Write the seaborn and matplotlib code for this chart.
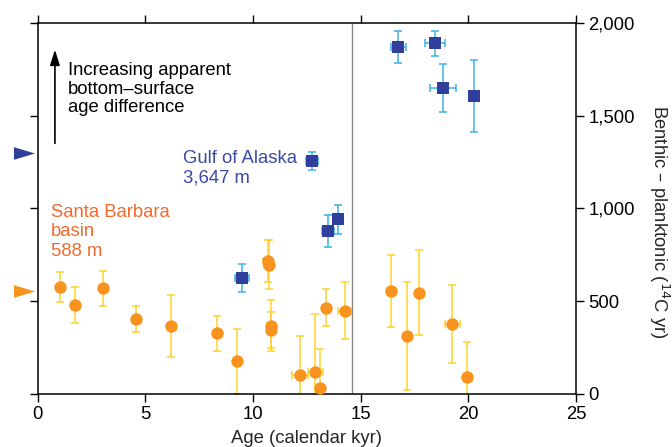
import matplotlib
matplotlib.use("Agg")
import matplotlib.pyplot as plt
import seaborn as sns
import pandas as pd
from matplotlib.path import Path

# ---- data ----
sb_age = [1.04, 1.73, 3.01, 4.56, 6.19, 8.31, 9.25, 10.68, 10.72, 10.82, 10.84,
          12.18, 12.90, 13.10, 13.37, 14.27, 16.43, 17.16, 17.72, 19.25, 19.93]
sb_val = [578, 479, 569, 404, 366, 327, 176, 717, 697, 368, 346,
          102, 117, 34, 465, 449, 555, 312, 546, 375, 93]
sb_yerr = [80, 95, 95, 72, 168, 94, 175, 112, 132, 137, 97,
           212, 312, 207, 98, 155, 195, 290, 228, 210, 185]
sb_xerr = [0, 0, 0, 0.15, 0, 0, 0, 0.2, 0.2, 0.15, 0.15,
           0.39, 0.33, 0, 0, 0.3, 0.2, 0, 0, 0.35, 0]

ga_age = [9.48, 12.73, 13.49, 13.93, 16.74, 18.44, 18.83, 20.27]
ga_val = [623, 1256, 879, 941, 1870, 1888, 1650, 1607]
ga_yerr = [76, 50, 85, 77, 86, 68, 130, 194]
ga_xerr = [0.33, 0.28, 0.27, 0.2, 0.35, 0.46, 0.6, 0]

x_ticks = [0, 5, 10, 15, 20, 25]
y_ticks = [0, 500, 1000, 1500, 2000]
y_tick_labels = ["0", "500", "1,000", "1,500", "2,000"]

deglacial_line = 14.58
ga_marker_level = 1296
sb_marker_level = 555

# ---- colours ----
BLUE = "#303f9b"
LIGHTBLUE = "#3cb2e4"
ORANGE = "#f7931e"
YELLOW = "#fcd232"
SB_TEXT = "#f2692b"
GA_TEXT = "#3a4aa2"

sns.set_style("ticks")
plt.rcParams["font.family"] = ["Liberation Sans", "DejaVu Sans"]
plt.rcParams["font.size"] = 13.3

fig = plt.figure(figsize=(6.72, 4.47), dpi=100)
ax = fig.add_axes([0.0561, 0.1186, 0.8010, 0.8306])

sb = pd.DataFrame({"age": sb_age, "val": sb_val})
ga = pd.DataFrame({"age": ga_age, "val": ga_val})

ax.axvline(deglacial_line, color="#8a8a8a", lw=1.0, zorder=1)

ax.errorbar(sb_age, sb_val, yerr=sb_yerr, xerr=sb_xerr, fmt="none",
            ecolor=YELLOW, elinewidth=1.1, capsize=2.6, capthick=1.1, zorder=2)
ax.errorbar(ga_age, ga_val, yerr=ga_yerr, xerr=ga_xerr, fmt="none",
            ecolor=LIGHTBLUE, elinewidth=1.1, capsize=2.6, capthick=1.1, zorder=2)

sns.scatterplot(data=sb, x="age", y="val", ax=ax, marker="o", s=80,
                color=ORANGE, linewidth=0, zorder=3, legend=False)
sns.scatterplot(data=ga, x="age", y="val", ax=ax, marker="s", s=72,
                color=BLUE, linewidth=0, zorder=3, legend=False)

ax.set_xlim(0, 25)
ax.set_ylim(0, 2000)
ax.set_xticks(x_ticks)
ax.set_yticks(y_ticks)
ax.set_yticklabels(y_tick_labels)
ax.tick_params(axis="both", direction="out", length=6, width=1.0, colors="black",
               labelsize=13.3, pad=3)
ax.tick_params(axis="x", top=True, bottom=True, labeltop=False, labelbottom=True)
ax.tick_params(axis="y", left=True, right=True, labelleft=False, labelright=True)
for sp in ax.spines.values():
    sp.set_visible(True)
    sp.set_color("black")
    sp.set_linewidth(1.1)

ax.set_xlabel("Age (calendar kyr)", fontsize=13.3, labelpad=5)
ax.yaxis.set_label_position("right")
ax.set_ylabel("Benthic – planktonic ($^{14}$C yr)", fontsize=13.3,
              rotation=270, ha="center", va="center")
ax.yaxis.set_label_coords(1.154, 0.463)

# side triangles
tri = Path([(-1, -0.6), (1, 0), (-1, 0.6), (-1, -0.6)],
           [Path.MOVETO, Path.LINETO, Path.LINETO, Path.CLOSEPOLY])
ax.scatter([-0.64], [ga_marker_level], marker=tri, s=230, color=BLUE,
           linewidth=0, clip_on=False, zorder=5)
ax.scatter([-0.64], [sb_marker_level], marker=tri, s=230, color=ORANGE,
           linewidth=0, clip_on=False, zorder=5)

# arrow + annotation
ax.annotate("", xy=(0.8, 1870), xytext=(0.8, 1335),
            arrowprops=dict(arrowstyle="-|>,head_length=0.7,head_width=0.22",
                            color="black", lw=1.2))
ax.text(1.41, 1642, "Increasing apparent\nbottom–surface\nage difference",
        ha="left", va="center", fontsize=13.3, linespacing=1.1, color="black")
ax.text(6.73, 1218, "Gulf of Alaska\n3,647 m", ha="left", va="center",
        fontsize=13.3, color=GA_TEXT, linespacing=1.2)
ax.text(0.62, 874, "Santa Barbara\nbasin\n588 m", ha="left", va="center",
        fontsize=13.3, color=SB_TEXT, linespacing=1.2)

fig.savefig("out.png", dpi=100)
